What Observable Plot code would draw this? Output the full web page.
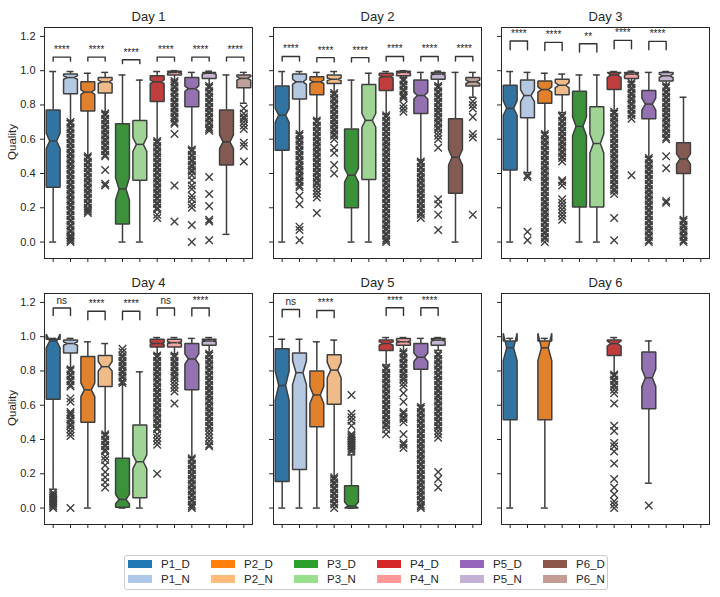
<!DOCTYPE html>
<html><head><meta charset="utf-8">
<script src="https://cdn.jsdelivr.net/npm/d3@7"></script>
<script src="https://cdn.jsdelivr.net/npm/@observablehq/plot@0.6"></script>
<style>
body{margin:0;background:#fff;font-family:"Liberation Sans",Arial,sans-serif;}
#chart{position:relative;width:720px;height:597px;overflow:hidden;background:#fff;}
#chart svg{position:absolute;}
.ylab{position:absolute;font-size:11.5px;color:#262626;transform:translate(-50%,-50%) rotate(-90deg);white-space:nowrap;}
#legend{position:absolute;left:124px;top:555px;width:484px;height:35px;box-sizing:border-box;border:1px solid #cccccc;border-radius:3px;background:#fff;}
.lp{position:absolute;width:24px;height:8px;}
.ll{position:absolute;font-size:11.5px;line-height:12px;color:#262626;}
</style></head><body><div id="chart"></div>
<script>
const categories = ["P1_D","P1_N","P2_D","P2_N","P3_D","P3_N","P4_D","P4_N","P5_D","P5_N","P6_D","P6_N"];
const palette = ["#1f77b4","#aec7e8","#ff7f0e","#ffbb78","#2ca02c","#98df8a","#d62728","#ff9896","#9467bd","#c5b0d5","#8c564b","#c49c94"];
const dayTitles = ["Day 1","Day 2","Day 3","Day 4","Day 5","Day 6"];
const yTicks = [0, 0.2, 0.4, 0.6, 0.8, 1.0, 1.2];

// [category, whiskerLow, q1, median, q3, whiskerHigh, notchLow, notchHigh]
const statsDay1 = [
  ["P1_D",0.0,0.32,0.59,0.77,0.995,0.545,0.635],
  ["P1_N",0.71,0.865,0.96,0.98,0.995,0.95,0.97],
  ["P2_D",0.505,0.765,0.875,0.935,0.985,0.862,0.888],
  ["P2_N",0.76,0.87,0.935,0.96,0.99,0.925,0.945],
  ["P3_D",0.0,0.105,0.31,0.69,0.975,0.245,0.375],
  ["P3_N",0.0,0.36,0.57,0.71,0.945,0.53,0.61],
  ["P4_D",0.595,0.82,0.935,0.97,0.995,0.925,0.945],
  ["P4_N",0.94,0.975,0.99,0.997,1.0,0.987,0.993],
  ["P5_D",0.55,0.79,0.895,0.96,0.99,0.88,0.91],
  ["P5_N",0.92,0.955,0.985,0.99,0.997,0.98,0.99],
  ["P6_D",0.045,0.45,0.585,0.77,0.975,0.545,0.625],
  ["P6_N",0.81,0.90,0.955,0.975,0.99,0.945,0.965]
];
const statsDay2 = [
  ["P1_D",0.0,0.535,0.74,0.91,0.995,0.70,0.78],
  ["P1_N",0.635,0.835,0.935,0.98,0.995,0.92,0.95],
  ["P2_D",0.72,0.86,0.935,0.965,0.99,0.925,0.945],
  ["P2_N",0.875,0.925,0.95,0.975,0.995,0.943,0.957],
  ["P3_D",0.0,0.20,0.39,0.66,0.945,0.35,0.43],
  ["P3_N",0.0,0.365,0.71,0.92,0.985,0.67,0.75],
  ["P4_D",0.745,0.885,0.965,0.985,0.995,0.958,0.972],
  ["P4_N",0.96,0.97,0.99,0.996,1.0,0.987,0.993],
  ["P5_D",0.48,0.75,0.855,0.945,0.99,0.835,0.875],
  ["P5_N",0.92,0.95,0.98,0.99,0.997,0.975,0.985],
  ["P6_D",0.0,0.285,0.495,0.72,0.99,0.45,0.54],
  ["P6_N",0.845,0.91,0.935,0.96,0.99,0.925,0.945]
];
const statsDay3 = [
  ["P1_D",0.0,0.42,0.78,0.915,0.995,0.74,0.825],
  ["P1_N",0.405,0.725,0.855,0.945,0.99,0.82,0.89],
  ["P2_D",0.64,0.81,0.89,0.94,0.985,0.875,0.905],
  ["P2_N",0.755,0.86,0.915,0.95,0.98,0.90,0.93],
  ["P3_D",0.0,0.205,0.675,0.88,0.975,0.62,0.73],
  ["P3_N",0.0,0.205,0.575,0.79,0.975,0.52,0.63],
  ["P4_D",0.765,0.89,0.975,0.99,0.995,0.96,0.99],
  ["P4_N",0.935,0.955,0.98,0.99,0.997,0.975,0.985],
  ["P5_D",0.495,0.72,0.805,0.885,0.99,0.77,0.84],
  ["P5_N",0.92,0.94,0.97,0.99,0.995,0.96,0.98],
  ["P6_D",0.14,0.40,0.485,0.58,0.845,0.455,0.515]
];
const statsDay4 = [
  ["P1_D",0.11,0.635,0.975,0.985,0.99,0.935,1.015],
  ["P1_N",0.82,0.905,0.96,0.98,0.99,0.95,0.97],
  ["P2_D",0.0,0.50,0.69,0.885,0.97,0.65,0.73],
  ["P2_N",0.435,0.71,0.825,0.89,0.96,0.80,0.855],
  ["P3_D",0.0,0.005,0.05,0.29,0.72,0.025,0.08],
  ["P3_N",0.0,0.06,0.27,0.485,0.795,0.23,0.31],
  ["P4_D",0.90,0.94,0.96,0.985,0.995,0.955,0.965],
  ["P4_N",0.90,0.94,0.965,0.985,0.995,0.96,0.97],
  ["P5_D",0.295,0.69,0.87,0.96,0.99,0.84,0.90],
  ["P5_N",0.91,0.95,0.975,0.985,0.995,0.97,0.98]
];
const statsDay5 = [
  ["P1_D",0.0,0.155,0.715,0.93,0.985,0.63,0.80],
  ["P1_N",0.0,0.225,0.79,0.905,0.985,0.72,0.86],
  ["P2_D",0.0,0.475,0.66,0.80,0.97,0.61,0.71],
  ["P2_N",0.18,0.605,0.805,0.895,0.98,0.76,0.85],
  ["P3_D",0.0,0.0,0.012,0.13,0.31,0.0,0.035],
  ["P4_D",0.835,0.92,0.96,0.98,0.995,0.95,0.97],
  ["P4_N",0.915,0.95,0.97,0.99,0.995,0.965,0.975],
  ["P5_D",0.60,0.81,0.88,0.96,0.99,0.855,0.905],
  ["P5_N",0.92,0.95,0.98,0.99,0.995,0.975,0.985]
];
const statsDay6 = [
  ["P1_D",0.0,0.515,0.935,0.975,0.99,0.86,1.02],
  ["P2_D",0.0,0.515,0.935,0.975,0.99,0.86,1.02],
  ["P4_D",0.785,0.89,0.96,0.98,0.995,0.945,0.975],
  ["P5_D",0.145,0.58,0.76,0.91,0.975,0.71,0.81]
];

// outliers: [category, values]
const outliersDay1 = [
  ["P1_N",[0.70,0.69,0.67,0.66,0.64,0.63,0.61,0.60,0.58,0.57,0.55,0.54,0.52,0.51,0.49,0.48,0.46,0.45,0.43,0.42,0.40,0.39,0.37,0.36,0.34,0.33,0.31,0.30,0.28,0.27,0.25,0.24,0.22,0.21,0.19,0.18,0.16,0.15,0.13,0.12,0.10,0.09,0.07,0.06,0.04,0.03,0.02,0.01,0.00]],
  ["P2_D",[0.50,0.49,0.47,0.46,0.44,0.43,0.41,0.40,0.38,0.37,0.35,0.34,0.32,0.31,0.29,0.28,0.26,0.25,0.23,0.22,0.20,0.19,0.18,0.17]],
  ["P2_N",[0.75,0.74,0.72,0.71,0.69,0.68,0.66,0.65,0.63,0.62,0.60,0.59,0.57,0.56,0.54,0.53,0.51,0.50,0.42,0.34,0.33]],
  ["P4_D",[0.59,0.58,0.56,0.55,0.53,0.52,0.50,0.49,0.47,0.46,0.44,0.43,0.41,0.40,0.38,0.37,0.35,0.34,0.32,0.31,0.29,0.28,0.26,0.25,0.23,0.22,0.20,0.19,0.16,0.14]],
  ["P4_N",[0.94,0.93,0.91,0.90,0.88,0.87,0.85,0.84,0.82,0.81,0.79,0.78,0.76,0.75,0.73,0.72,0.70,0.69,0.63,0.33,0.12]],
  ["P5_D",[0.54,0.53,0.51,0.50,0.48,0.47,0.45,0.44,0.42,0.41,0.39,0.36,0.33,0.31,0.27,0.25,0.22,0.20,0.10,0.00]],
  ["P5_N",[0.91,0.90,0.88,0.87,0.85,0.84,0.82,0.81,0.79,0.78,0.76,0.75,0.73,0.72,0.70,0.69,0.67,0.66,0.65,0.38,0.28,0.21,0.13,0.12,0.01]],
  ["P6_N",[0.78,0.75,0.73,0.72,0.70,0.68,0.66,0.58,0.56,0.47]]
];
const outliersDay2 = [
  ["P1_N",[0.63,0.62,0.60,0.59,0.57,0.56,0.54,0.53,0.51,0.50,0.48,0.47,0.45,0.44,0.42,0.41,0.39,0.38,0.36,0.35,0.33,0.32,0.27,0.22,0.09,0.07,0.01]],
  ["P2_D",[0.71,0.70,0.68,0.67,0.65,0.64,0.62,0.61,0.59,0.58,0.56,0.55,0.53,0.52,0.50,0.49,0.47,0.46,0.44,0.43,0.41,0.40,0.38,0.37,0.35,0.34,0.32,0.30,0.28,0.26,0.17]],
  ["P2_N",[0.87,0.86,0.84,0.83,0.81,0.80,0.78,0.77,0.75,0.74,0.72,0.71,0.69,0.68,0.66,0.65,0.63,0.62,0.60,0.55,0.52,0.45,0.40]],
  ["P4_D",[0.74,0.73,0.71,0.70,0.68,0.67,0.65,0.64,0.62,0.61,0.59,0.58,0.56,0.55,0.53,0.52,0.50,0.49,0.47,0.46,0.44,0.43,0.41,0.40,0.38,0.37,0.35,0.34,0.32,0.31,0.29,0.28,0.26,0.25,0.23,0.22,0.20,0.19,0.17,0.16,0.14,0.13,0.11,0.10,0.08,0.07,0.05,0.04,0.02,0.01,0.00]],
  ["P4_N",[0.95,0.94,0.92,0.91,0.89,0.88,0.86,0.85,0.84,0.80,0.78,0.76]],
  ["P5_D",[0.47,0.46,0.44,0.43,0.41,0.40,0.38,0.37,0.35,0.34,0.32,0.31,0.29,0.28,0.26,0.25,0.23,0.22,0.20,0.19,0.17,0.16,0.14]],
  ["P5_N",[0.91,0.90,0.88,0.87,0.85,0.84,0.82,0.81,0.79,0.78,0.76,0.75,0.73,0.72,0.70,0.69,0.67,0.66,0.64,0.62,0.60,0.55,0.25,0.22,0.16,0.07]],
  ["P6_N",[0.82,0.80,0.78,0.73,0.63,0.61,0.16]]
];
const outliersDay3 = [
  ["P1_N",[0.39,0.38,0.06,0.01]],
  ["P2_D",[0.63,0.62,0.60,0.59,0.57,0.56,0.54,0.53,0.51,0.50,0.48,0.47,0.45,0.44,0.42,0.41,0.39,0.38,0.36,0.35,0.33,0.32,0.30,0.29,0.27,0.26,0.24,0.23,0.21,0.20,0.18,0.17,0.15,0.14,0.12,0.11,0.09,0.08,0.06,0.05,0.03,0.02,0.00]],
  ["P2_N",[0.74,0.73,0.71,0.70,0.68,0.67,0.65,0.64,0.62,0.61,0.59,0.58,0.56,0.55,0.53,0.52,0.50,0.49,0.47,0.36,0.35,0.33,0.25,0.23,0.21,0.19,0.17,0.15,0.13]],
  ["P4_D",[0.76,0.75,0.73,0.72,0.70,0.69,0.67,0.66,0.64,0.63,0.61,0.60,0.58,0.57,0.55,0.54,0.52,0.51,0.49,0.48,0.46,0.45,0.43,0.42,0.40,0.39,0.37,0.36,0.34,0.33,0.31,0.30,0.28,0.14,0.01]],
  ["P4_N",[0.93,0.92,0.90,0.89,0.87,0.86,0.84,0.83,0.81,0.80,0.78,0.77,0.75,0.74,0.72,0.39]],
  ["P5_D",[0.49,0.48,0.46,0.45,0.43,0.42,0.40,0.39,0.37,0.36,0.34,0.33,0.31,0.30,0.28,0.27,0.25,0.24,0.22,0.21,0.19,0.18,0.16,0.15,0.13,0.12,0.10,0.09,0.07,0.06,0.04,0.03,0.01,0.00]],
  ["P5_N",[0.91,0.90,0.88,0.87,0.85,0.84,0.82,0.81,0.79,0.78,0.76,0.75,0.73,0.72,0.70,0.69,0.67,0.66,0.64,0.63,0.61,0.60,0.50,0.43,0.24,0.23]],
  ["P6_D",[0.13,0.12,0.10,0.09,0.07,0.06,0.04,0.03,0.01,0.00]]
];
const outliersDay4 = [
  ["P1_D",[0.09,0.08,0.07,0.06,0.05,0.04,0.03,0.02,0.01,0.00]],
  ["P1_N",[0.81,0.80,0.78,0.77,0.75,0.74,0.72,0.71,0.64,0.62,0.56,0.55,0.54,0.52,0.51,0.49,0.48,0.46,0.44,0.42,0.00]],
  ["P2_N",[0.43,0.42,0.40,0.39,0.37,0.36,0.34,0.33,0.30,0.28,0.25,0.21,0.18,0.15,0.12]],
  ["P3_D",[0.73,0.74,0.76,0.77,0.79,0.80,0.82,0.83,0.85,0.86,0.88,0.89,0.91,0.93]],
  ["P4_D",[0.89,0.88,0.86,0.85,0.83,0.82,0.80,0.79,0.77,0.76,0.74,0.73,0.71,0.70,0.68,0.67,0.65,0.64,0.62,0.61,0.59,0.58,0.56,0.55,0.53,0.52,0.50,0.49,0.47,0.46,0.43,0.41,0.39,0.37,0.20]],
  ["P4_N",[0.89,0.88,0.86,0.85,0.83,0.82,0.80,0.79,0.77,0.76,0.74,0.72,0.70,0.68,0.61]],
  ["P5_D",[0.29,0.28,0.26,0.25,0.23,0.22,0.20,0.19,0.17,0.16,0.14,0.13,0.11,0.10,0.08,0.07,0.05,0.04,0.02,0.01,0.00]],
  ["P5_N",[0.90,0.89,0.87,0.86,0.84,0.83,0.81,0.80,0.78,0.77,0.75,0.74,0.72,0.71,0.69,0.68,0.66,0.65,0.63,0.62,0.60,0.59,0.57,0.56,0.54,0.53,0.51,0.50,0.48,0.47,0.45,0.43,0.41,0.39,0.37,0.36]]
];
const outliersDay5 = [
  ["P2_N",[0.18,0.17,0.15,0.14,0.12,0.11,0.09,0.08,0.06,0.05,0.03,0.02,0.00]],
  ["P3_D",[0.66,0.55,0.53,0.51,0.48,0.43,0.42,0.41,0.40,0.39,0.38,0.37,0.36,0.35,0.34,0.33]],
  ["P4_D",[0.82,0.81,0.79,0.78,0.76,0.75,0.73,0.72,0.70,0.69,0.67,0.66,0.64,0.63,0.61,0.60,0.58,0.57,0.55,0.54,0.52,0.51,0.49,0.48,0.46,0.43]],
  ["P4_N",[0.91,0.90,0.88,0.87,0.85,0.84,0.82,0.81,0.79,0.78,0.76,0.75,0.73,0.71,0.67,0.62,0.56,0.55,0.53,0.52,0.50,0.43,0.38,0.37,0.35]],
  ["P5_D",[0.59,0.58,0.56,0.55,0.53,0.52,0.50,0.49,0.47,0.46,0.44,0.43,0.41,0.40,0.38,0.37,0.35,0.34,0.32,0.31,0.29,0.28,0.26,0.25,0.23,0.22,0.20,0.19,0.17,0.16,0.14,0.13,0.11,0.10,0.08,0.07,0.05,0.04,0.02,0.01,0.00]],
  ["P5_N",[0.90,0.89,0.87,0.86,0.84,0.83,0.81,0.80,0.78,0.77,0.75,0.74,0.72,0.71,0.69,0.68,0.66,0.65,0.63,0.62,0.60,0.59,0.57,0.56,0.54,0.53,0.51,0.50,0.48,0.47,0.45,0.43,0.41,0.21,0.17,0.12]]
];
const outliersDay6 = [
  ["P4_D",[0.78,0.77,0.75,0.74,0.72,0.71,0.69,0.67,0.61,0.48,0.45,0.38,0.36,0.33,0.26,0.17,0.12,0.08,0.04,0.02,0.00]],
  ["P5_D",[0.015]]
];

// brackets: [left, right, legBottom, top, label]
const bracketsDay1 = [
  ["P1_D","P1_N",1.056,1.079,"****"],["P2_D","P2_N",1.056,1.079,"****"],["P3_D","P3_N",1.041,1.064,"****"],
  ["P4_D","P4_N",1.056,1.079,"****"],["P5_D","P5_N",1.056,1.079,"****"],["P6_D","P6_N",1.056,1.079,"****"]
];
const bracketsDay2 = [
  ["P1_D","P1_N",1.056,1.083,"****"],["P2_D","P2_N",1.05,1.076,"****"],["P3_D","P3_N",1.05,1.076,"****"],
  ["P4_D","P4_N",1.056,1.083,"****"],["P5_D","P5_N",1.056,1.083,"****"],["P6_D","P6_N",1.056,1.083,"****"]
];
const bracketsDay3 = [
  ["P1_D","P1_N",1.122,1.173,"****"],["P2_D","P2_N",1.118,1.165,"****"],["P3_D","P3_N",1.109,1.157,"**"],
  ["P4_D","P4_N",1.128,1.177,"****"],["P5_D","P5_N",1.122,1.171,"****"]
];
const bracketsDay4 = [
  ["P1_D","P1_N",1.124,1.167,"ns"],["P2_D","P2_N",1.099,1.148,"****"],["P3_D","P3_N",1.099,1.148,"****"],
  ["P4_D","P4_N",1.124,1.167,"ns"],["P5_D","P5_N",1.12,1.167,"****"]
];
const bracketsDay5 = [
  ["P1_D","P1_N",1.115,1.159,"ns"],["P2_D","P2_N",1.111,1.153,"****"],
  ["P4_D","P4_N",1.124,1.169,"****"],["P5_D","P5_N",1.124,1.169,"****"]
];
const bracketsDay6 = [];

const colLeft = [44, 273, 501];
const rowTop = [27, 293];
const panelW = 208, panelH = 231;
const gray = "#3f3f3f";
const axisColor = "#262626";
const lw = 1.5;

function desaturate(c, p) { const h = d3.hsl(c); h.s *= p; return h.formatHex(); }
const boxColor = cat => desaturate(palette[categories.indexOf(cat)], 0.75);
const pos = cat => categories.indexOf(cat) + 0.5;

const chart = document.getElementById("chart");

function drawPanel(title, stats, outliers, brackets, col, row) {
  const mL = 44, mR = 6, mT = 27, mB = 12;
  const boxes = stats.map(([cat, lo, q1, med, q3, hi, nlo, nhi]) => ({cat, c: pos(cat), lo, q1, med, q3, hi, nlo, nhi}));
  const pts = outliers.flatMap(([cat, vals]) => vals.map(v => ({c: pos(cat), v})));
  const br = brackets.map(([a, b, leg, top, label]) => ({a: pos(a), b: pos(b), leg, top, label}));
  const marks = [];
  marks.push(Plot.ruleX(boxes, {x: "c", y1: "q3", y2: "hi", stroke: gray, strokeWidth: lw}));
  marks.push(Plot.ruleX(boxes, {x: "c", y1: "lo", y2: "q1", stroke: gray, strokeWidth: lw}));
  marks.push(Plot.ruleY(boxes, {y: "hi", x1: d => d.c - 0.2, x2: d => d.c + 0.2, stroke: gray, strokeWidth: lw}));
  marks.push(Plot.ruleY(boxes, {y: "lo", x1: d => d.c - 0.2, x2: d => d.c + 0.2, stroke: gray, strokeWidth: lw}));
  for (const b of boxes) {
    const bl = b.c - 0.4, brr = b.c + 0.4, cl = b.c - 0.2, cr = b.c + 0.2;
    const poly = [[bl,b.q1],[brr,b.q1],[brr,b.nlo],[cr,b.med],[brr,b.nhi],[brr,b.q3],[bl,b.q3],[bl,b.nhi],[cl,b.med],[bl,b.nlo]];
    marks.push(Plot.line(poly, {x: d => d[0], y: d => d[1], curve: "linear-closed", fill: boxColor(b.cat), stroke: gray, strokeWidth: lw, strokeLinejoin: "miter"}));
  }
  marks.push(Plot.ruleY(boxes, {y: "med", x1: d => d.c - 0.2, x2: d => d.c + 0.2, stroke: gray, strokeWidth: lw}));
  marks.push(Plot.dot(pts, {x: "c", y: "v", symbol: "times", r: 3.5, stroke: gray, strokeWidth: 1.4}));
  for (const k of br) {
    marks.push(Plot.line([[k.a,k.leg],[k.a,k.top],[k.b,k.top],[k.b,k.leg]], {x: d => d[0], y: d => d[1], stroke: "#333", strokeWidth: 1.4}));
  }
  marks.push(Plot.text(br, {x: d => (d.a + d.b) / 2, y: "top", text: "label", lineAnchor: "bottom", dy: -4, fontSize: 10, fill: axisColor}));
  marks.push(Plot.text([title], {text: d => d, frameAnchor: "top", lineAnchor: "bottom", dy: -7, fontSize: 13, fill: axisColor}));
  marks.push(Plot.frame({stroke: axisColor, strokeWidth: 1}));
  const svg = Plot.plot({
    width: panelW + mL + mR, height: panelH + mT + mB,
    marginLeft: mL, marginRight: mR, marginTop: mT, marginBottom: mB,
    style: {background: "transparent", fontFamily: "'Liberation Sans', Arial, sans-serif", fontSize: "11px", color: axisColor, overflow: "visible"},
    x: {domain: [0, categories.length], ticks: categories.map(pos), tickFormat: () => "", tickSize: 4, label: null},
    y: {domain: [-0.096, 1.252], ticks: yTicks, tickFormat: col === 0 ? d3.format(".1f") : () => "", tickSize: 4, label: null},
    marks
  });
  svg.style.left = (colLeft[col] - mL) + "px";
  svg.style.top = (rowTop[row] - mT) + "px";
  chart.appendChild(svg);
  if (col === 0) {
    const yl = document.createElement("div");
    yl.className = "ylab";
    yl.textContent = "Quality";
    yl.style.left = "12px";
    yl.style.top = (rowTop[row] + panelH * 0.5 - 0.5) + "px";
    chart.appendChild(yl);
  }
}

const panels = [
  [statsDay1, outliersDay1, bracketsDay1],
  [statsDay2, outliersDay2, bracketsDay2],
  [statsDay3, outliersDay3, bracketsDay3],
  [statsDay4, outliersDay4, bracketsDay4],
  [statsDay5, outliersDay5, bracketsDay5],
  [statsDay6, outliersDay6, bracketsDay6]
];
panels.forEach(([s, o, b], i) => drawPanel(dayTitles[i], s, o, b, i % 3, Math.floor(i / 3)));

// legend
const legend = document.createElement("div");
legend.id = "legend";
categories.forEach((cat, i) => {
  const c = Math.floor(i / 2), r = i % 2;
  const p = document.createElement("div");
  p.className = "lp";
  p.style.background = palette[i];
  p.style.left = (3 + c * 83) + "px";
  p.style.top = (4 + r * 15) + "px";
  legend.appendChild(p);
  const l = document.createElement("div");
  l.className = "ll";
  l.textContent = cat;
  l.style.left = (36 + c * 83) + "px";
  l.style.top = (2 + r * 15) + "px";
  legend.appendChild(l);
});
chart.appendChild(legend);
</script></body></html>
